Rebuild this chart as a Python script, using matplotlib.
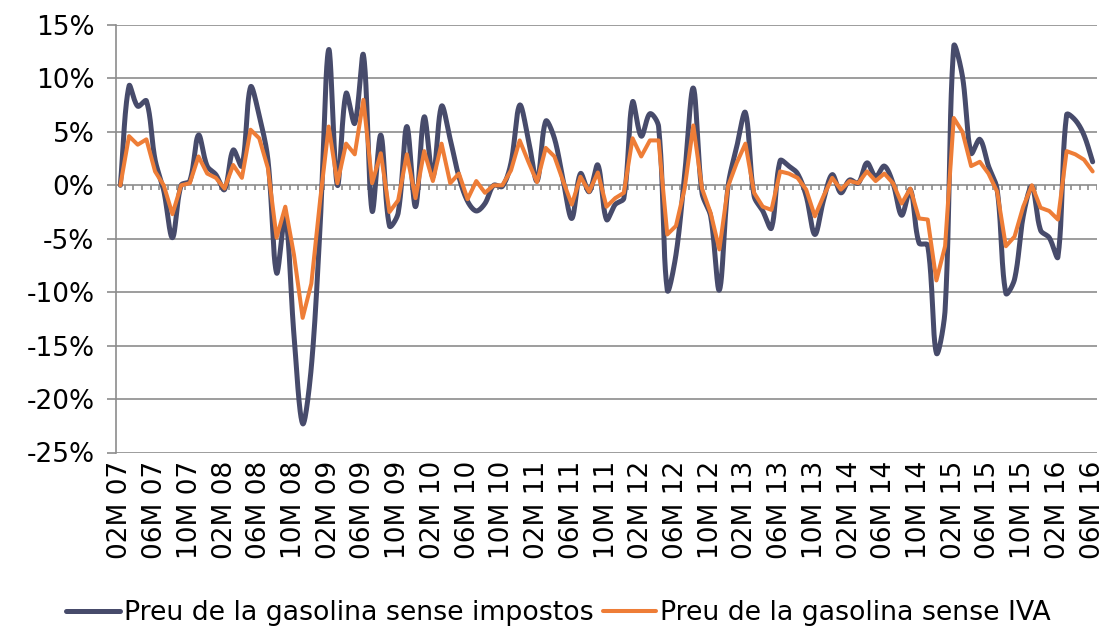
import numpy as np
import matplotlib
matplotlib.use("Agg")
import matplotlib.pyplot as plt
from matplotlib.lines import Line2D

# ---------------- data ----------------
tick_labels = ["02M 07", "06M 07", "10M 07", "02M 08", "06M 08", "10M 08",
               "02M 09", "06M 09", "10M 09", "02M 10", "06M 10", "10M 10",
               "02M 11", "06M 11", "10M 11", "02M 12", "06M 12", "10M 12",
               "02M 13", "06M 13", "10M 13", "02M 14", "06M 14", "10M 14",
               "02M 15", "06M 15", "10M 15", "02M 16", "06M 16"]

sense_impostos = [
    0.0, 9.3, 7.4, 7.9, 2.4, -0.5, -4.9, 0.0, 0.4, 4.7,
    1.8, 1.0, -0.4, 3.3, 1.8, 9.2, 6.5, 2.4, -8.2, -2.9,
    -14.0, -22.3, -17.0, -4.0, 12.7, 0.0, 8.6, 5.8, 12.2, -2.4,
    4.7, -3.8, -2.6, 5.5, -2.0, 6.4, 0.8, 7.4, 4.3, 0.8,
    -1.5, -2.4, -1.7, 0.0, -0.1, 2.1, 7.5, 4.3, 0.4, 6.0,
    4.4, 0.5, -3.1, 1.1, -0.6, 1.9, -3.2, -1.8, -1.2, 7.8,
    4.6, 6.7, 5.5, -9.8, -6.5, 1.0, 9.1, -0.7, -2.9, -9.8,
    -0.1, 3.6, 6.8, -1.0, -2.4, -4.0, 2.3, 1.8, 1.1, -1.0,
    -4.6, -1.4, 1.0, -0.7, 0.5, 0.2, 2.1, 0.8, 1.8, 0.2,
    -2.8, -0.4, -5.4, -5.6, -15.7, -11.7, 13.0, 10.2, 3.0, 4.3,
    1.8, -0.4, -10.1, -8.8, -2.9, -0.1, -4.2, -4.9, -6.7, 6.6,
    6.1, 4.7, 2.2]

sense_iva = [
    0.0, 4.6, 3.8, 4.3, 1.3, 0.0, -2.7, 0.0, 0.2, 2.7,
    1.1, 0.7, -0.3, 1.9, 0.7, 5.2, 4.4, 1.6, -4.9, -2.0,
    -6.5, -12.4, -9.2, -1.5, 5.5, 0.2, 3.9, 2.9, 8.0, 0.2,
    3.0, -2.5, -1.4, 2.9, -1.2, 3.2, 0.4, 3.9, 0.2, 1.1,
    -1.3, 0.4, -0.7, 0.0, 0.0, 1.4, 4.2, 2.2, 0.3, 3.5,
    2.7, 0.4, -1.8, 0.8, -0.6, 1.2, -2.0, -1.2, -0.7, 4.4,
    2.7, 4.2, 4.2, -4.6, -3.8, -0.3, 5.6, -0.3, -2.6, -6.0,
    -0.1, 2.1, 3.9, -0.7, -2.0, -2.3, 1.3, 1.1, 0.7, -0.4,
    -2.9, -1.0, 0.7, -0.4, 0.4, 0.2, 1.3, 0.4, 1.1, 0.2,
    -1.7, -0.3, -3.1, -3.2, -8.9, -5.7, 6.3, 5.0, 1.8, 2.2,
    1.1, -0.6, -5.7, -4.8, -2.0, 0.0, -2.1, -2.4, -3.2, 3.2,
    2.9, 2.4, 1.3]

series_names = ["Preu de la gasolina sense impostos",
                "Preu de la gasolina sense IVA"]

# ---------------- style ----------------
NAVY = "#474B6B"
ORANGE = "#EE7D37"
GRID = "#8C8C8C"
FONT = "DejaVu Sans"
FS = 19

plt.rcParams["font.family"] = [FONT]

fig = plt.figure(figsize=(11.06, 6.27), dpi=100)
ax = fig.add_axes([116 / 1106, 1 - 452.5 / 627, 981 / 1106, (452.5 - 25) / 627])

n = len(sense_impostos)
x = np.arange(n)
ax.set_xlim(-0.5, n - 0.5)
ax.set_ylim(-25, 15)


def smooth_display(ax, xv, yv, n_seg=24, t=1.0 / 3.0):
    """Excel-like smoothed line: cubic Bezier through the points, control
    points along the neighbour chord, weighted by segment lengths (pixels)."""
    P = ax.transData.transform(np.column_stack([xv, yv]))
    m = len(P)
    out_c, in_c = np.zeros_like(P), np.zeros_like(P)
    for i in range(m):
        a = P[max(i - 1, 0)]
        b = P[i]
        c = P[min(i + 1, m - 1)]
        d01 = np.hypot(*(b - a))
        d12 = np.hypot(*(c - b))
        tot = d01 + d12
        if tot == 0:
            out_c[i] = in_c[i] = b
            continue
        dirv = c - a
        out_c[i] = b + dirv * t * d12 / tot
        in_c[i] = b - dirv * t * d01 / tot
    pts = []
    for i in range(m - 1):
        p1, c1, c2, p2 = P[i], out_c[i], in_c[i + 1], P[i + 1]
        tt = np.linspace(0, 1, n_seg, endpoint=(i == m - 2))[:, None]
        pts.append(((1 - tt) ** 3) * p1 + 3 * ((1 - tt) ** 2) * tt * c1 +
                   3 * (1 - tt) * tt ** 2 * c2 + tt ** 3 * p2)
    pts = np.vstack(pts)
    return ax.transData.inverted().transform(pts)


sm = smooth_display(ax, x, sense_impostos)
ax.plot(sm[:, 0], sm[:, 1], color=NAVY, lw=3.6, solid_capstyle="round",
        solid_joinstyle="round", zorder=3)
ax.plot(x, sense_iva, color=ORANGE, lw=2.9, solid_capstyle="round",
        solid_joinstyle="round", zorder=4)

yt = np.arange(-25, 16, 5)
ax.set_yticks(yt)
ax.set_yticklabels([f"{v}%" for v in yt], fontsize=FS)
ax.yaxis.grid(True, color=GRID, lw=1.2, zorder=0)
ax.set_axisbelow(True)
ax.tick_params(axis="y", length=6.5, width=1.2, color=GRID, pad=9)

# category labels (every 4 months)
ax.set_xticks(np.arange(0, n, 4))
ax.set_xticklabels(tick_labels, rotation=90, fontsize=FS)
ax.tick_params(axis="x", length=0, pad=6)

for s in ["top", "right", "bottom"]:
    ax.spines[s].set_visible(False)
ax.spines["left"].set_color(GRID)
ax.spines["left"].set_linewidth(1.2)

# category boundary tick marks hanging from the 0% line
ax.vlines(np.arange(-0.5, n + 0.5, 1.0), -0.47, 0, color=GRID, lw=1.2, zorder=1)

handles = [Line2D([], [], color=NAVY, lw=3.6, solid_capstyle="round"),
           Line2D([], [], color=ORANGE, lw=2.9, solid_capstyle="round")]
fig.legend(handles, series_names, loc="center", bbox_to_anchor=(0.505, 1 - 613 / 627),
           ncol=2, frameon=False, fontsize=19.3, handlelength=2.0,
           handletextpad=0.15, columnspacing=0.35)

fig.savefig("out.png", dpi=100)
